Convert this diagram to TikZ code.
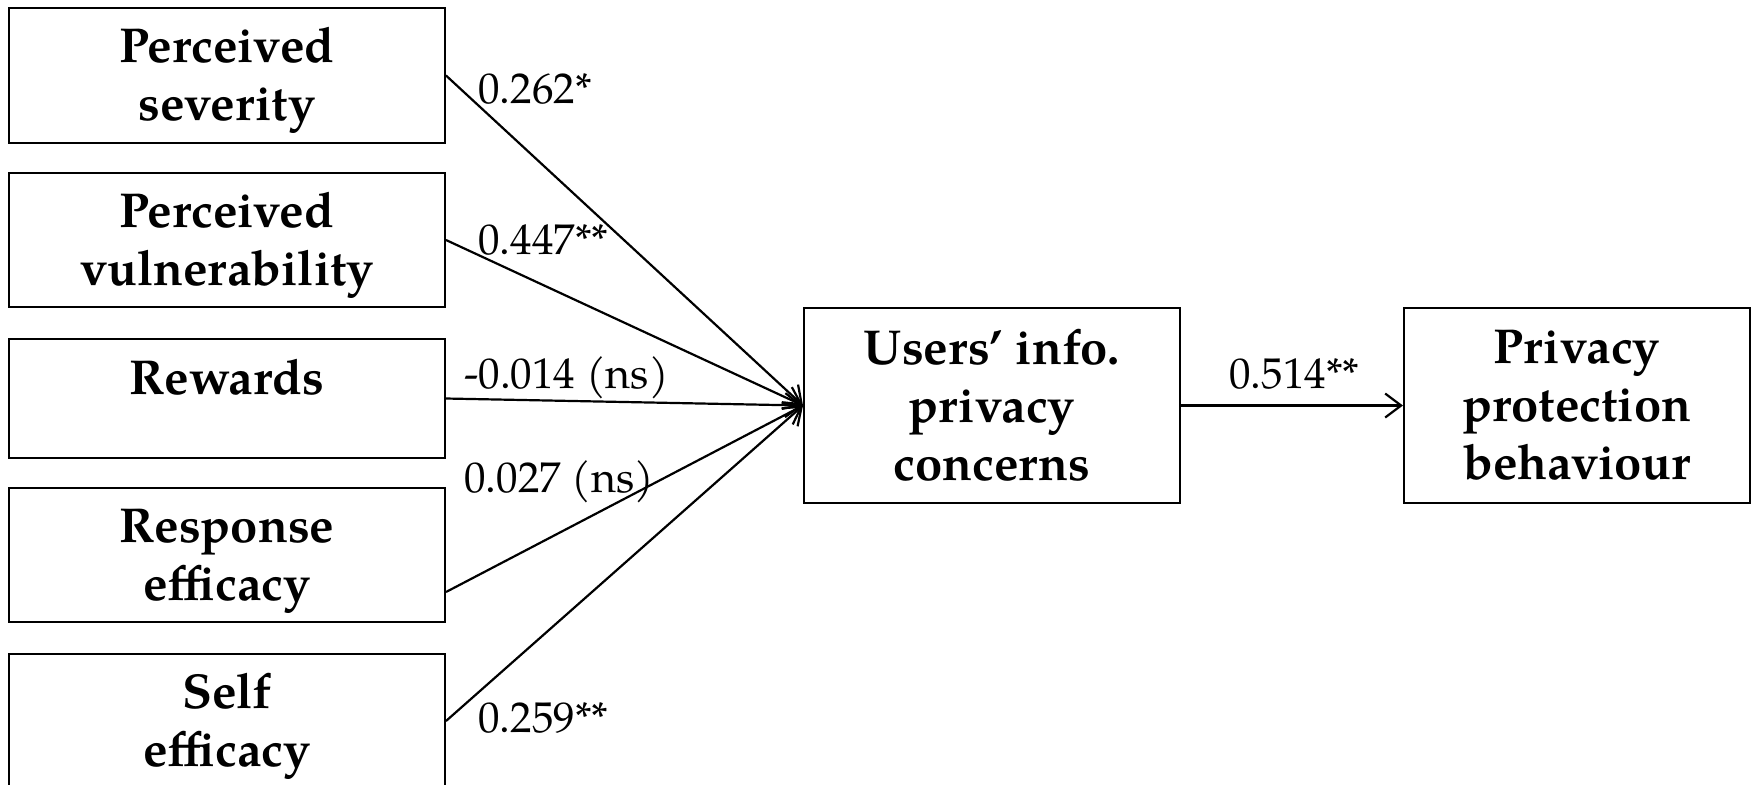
\documentclass[tikz,border=0pt]{standalone}
\usepackage{fontspec}
\setmainfont{texgyrepagella}[Extension=.otf, UprightFont=*-regular, BoldFont=*-bold, ItalicFont=*-italic, BoldItalicFont=*-bolditalic]
\usetikzlibrary{arrows.meta}
% extra room above the first line of the predictor boxes
\newcommand\firstline{\rule{0pt}{23pt}}

\begin{document}
\begin{tikzpicture}[x=0.5pt,y=-0.5pt,
  box/.style={draw, line width=1pt, inner sep=0pt, align=center,
    font=\fontsize{24.5}{29}\selectfont\bfseries},
  leftbox/.style={box, minimum width=218pt, minimum height=67pt},
  link/.style={line width=1.1pt, -{Straight Barb[length=8pt,width=12pt,line width=1.1pt]}},
  coef/.style={font=\fontsize{21.5}{25}\selectfont, anchor=base west, inner sep=0pt}]
\useasboundingbox (0,0) rectangle (1752,784);
\clip (0,0) rectangle (1752,784);

% predictors
\node[leftbox, minimum height=67.5pt] (sev) at (227,75.5) {\firstline Perceived\\severity};
\node[leftbox] (vul) at (227,240) {\firstline Perceived\\vulnerability};
\node[leftbox, minimum height=59.5pt] (rew) at (227,398.5) {\firstline Rewards\\[-11pt]\strut};
\node[leftbox] (resp) at (227,555) {\firstline Response\\efficacy};
\node[leftbox] (self) at (227,721) {\firstline Self\\efficacy};

% mediator and outcome
\node[box, minimum width=188pt, minimum height=97.5pt] (uipc) at (992,405.5) {Users’ info.\\privacy\\concerns};
\node[box, minimum width=173pt, minimum height=97.5pt] (ppb) at (1577,405.5) {Privacy\\protection\\behaviour};

% paths
\draw[link] (sev.east) -- (uipc.west);
\draw[link] (vul.east) -- (uipc.west);
\draw[link] (rew.east) -- (uipc.west);
\draw[link] ([yshift=-18.5pt]resp.east) -- (uipc.west);
\draw[link] (self.east) -- (uipc.west);
\draw[link] (uipc.east) -- (ppb.west);

% path coefficients
\node[coef] (c1) at (478,103) {0.262*};
\node[coef] (c2) at (478,254) {0.447**};
\node[coef] (c3) at (464,388) {-0.014 (ns)};
\node[coef] (c4) at (464,492) {0.027 (ns)};
\node[coef] (c5) at (478,732) {0.259**};
\node[coef] (c6) at (1229,388) {0.514**};
\end{tikzpicture}
\end{document}
